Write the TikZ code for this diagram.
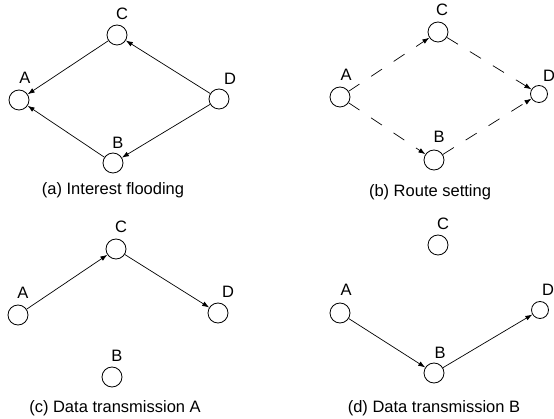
\documentclass[tikz,border=0pt]{standalone}
\usepackage{fontspec}
\setmainfont{Liberation Sans}
\usetikzlibrary{arrows.meta}
\begin{document}
\begin{tikzpicture}[x=1pt,y=-1pt,
  nd/.style={draw,circle,inner sep=0pt,minimum size=20pt,line width=0.8pt},
  ndsmall/.style={nd,minimum size=17pt},
  lbl/.style={inner sep=0pt,font=\fontsize{16.5}{19}\selectfont},
  captext/.style={inner sep=0pt,font=\fontsize{16.5}{19}\selectfont},
  arr/.style={line width=0.7pt,-{Latex[length=7pt,width=5pt]}},
  darr/.style={arr,dash pattern=on 13pt off 14pt}]
\useasboundingbox (0,0) rectangle (554,419);
% (a)
\node[nd] (aA) at (19,100) {};
\node[nd] (aC) at (117,35) {};
\node[nd] (aD) at (219,99) {};
\node[nd] (aB) at (113,163) {};
\node[lbl] (aAl) at (25,78) {A};
\node[lbl] (aCl) at (122,14) {C};
\node[lbl] (aDl) at (230,79) {D};
\node[lbl] (aBl) at (118,143) {B};
\node[captext] (acap) at (113,190) {(a) Interest flooding};
\draw[arr] (aC) -- (aA);
\draw[arr] (aB) -- (aA);
\draw[arr] (aD) -- (aC);
\draw[arr] (aD) -- (aB);
% (b)
\node[nd] (bA) at (340,97) {};
\node[nd] (bC) at (438,32) {};
\node[ndsmall] (bD) at (539,94) {};
\node[nd] (bB) at (434,160) {};
\node[lbl] (bAl) at (346,75) {A};
\node[lbl] (bCl) at (442,10) {C};
\node[lbl] (bDl) at (549,76) {D};
\node[lbl] (bBl) at (439,137) {B};
\node[captext] (bcap) at (430,192) {(b) Route setting};
\draw[darr] (bA) -- (bC);
\draw[darr] (bA) -- (bB);
\draw[darr] (bC) -- (bD);
\draw[darr] (bB) -- (bD);
% (c)
\node[nd] (cA) at (18,315) {};
\node[nd] (cC) at (116,249) {};
\node[nd] (cD) at (218,313) {};
\node[nd] (cB) at (112,377) {};
\node[lbl] (cAl) at (23,293) {A};
\node[lbl] (cCl) at (121,227) {C};
\node[lbl] (cDl) at (228,292) {D};
\node[lbl] (cBl) at (117,356) {B};
\node[captext] (ccap) at (115,408) {(c) Data transmission A};
\draw[arr] (cA) -- (cC);
\draw[arr] (cC) -- (cD);
% (d)
\node[nd] (dA) at (340,313) {};
\node[nd] (dC) at (438,245) {};
\node[ndsmall] (dD) at (540,310) {};
\node[nd] (dB) at (434,373) {};
\node[lbl] (dAl) at (346,290) {A};
\node[lbl] (dCl) at (443,224) {C};
\node[lbl] (dDl) at (548,290) {D};
\node[lbl] (dBl) at (440,353) {B};
\node[captext] (dcap) at (434,408) {(d) Data transmission B};
\draw[arr] (dA) -- (dB);
\draw[arr] (dB) -- (dD);
\end{tikzpicture}
\end{document}
